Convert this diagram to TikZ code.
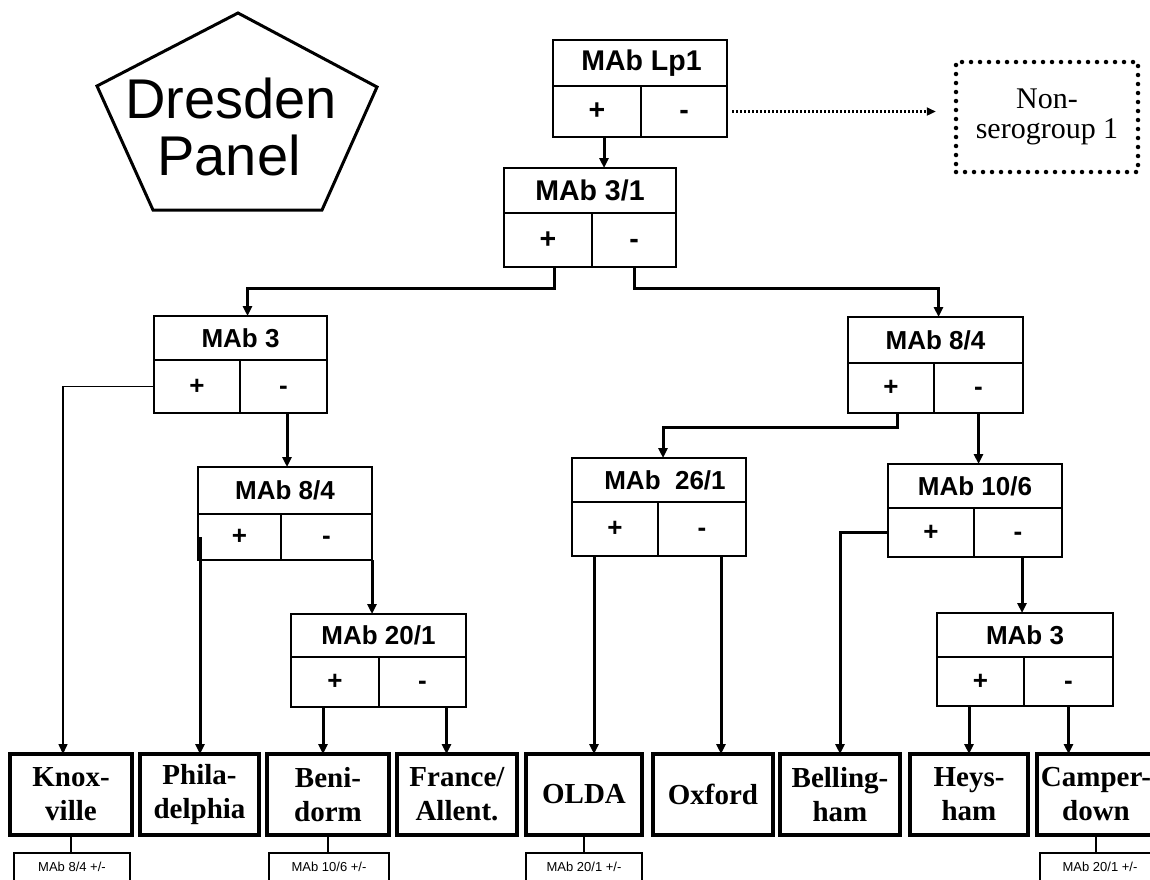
\documentclass[tikz,border=0pt]{standalone}
\usepackage{fontspec}
\setmainfont{Liberation Serif}
\setsansfont{Liberation Sans}
\usetikzlibrary{arrows.meta}
\tikzset{
  hbox/.style={draw, line width=2.8pt, inner sep=0pt, outer sep=0pt,
    font=\sffamily\bfseries\fontsize{26}{28}\selectfont},
  bigbox/.style={hbox, font=\sffamily\bfseries\fontsize{28.5}{30}\selectfont},
  leafbox/.style={draw, line width=3.5pt, inner sep=0pt, outer sep=0pt, align=center,
    font=\bfseries\fontsize{29}{34}\selectfont},
  notebox/.style={draw, line width=2pt, inner sep=0pt, outer sep=0pt,
    font=\sffamily\fontsize{13}{14}\selectfont},
  conn/.style={line width=3pt},
  thinconn/.style={line width=1.5pt},
  arr/.style={-{Triangle[length=10pt,width=9pt]}},
  dotbox/.style={draw, line width=4.5pt, dash pattern=on 0pt off 9pt, line cap=round,
    inner sep=0pt, align=center, font=\fontsize{30}{30}\selectfont},
  dotarrow/.style={line width=2.2pt, dash pattern=on 2pt off 2pt,
    -{Triangle[length=9pt,width=8pt]}},
  pent/.style={line width=3pt, line join=miter},
  bigtext/.style={font=\sffamily\fontsize{56}{58}\selectfont, anchor=base, inner sep=0pt}
}
% style, name, L, T, M (header bottom), D (divider), R, B, header text
\newcommand\mabbox[9]{%
  \node[#1, minimum width={(#7-#3)*1pt}, minimum height={(#5-#4)*1pt}] (#2) at ({(#3+#7)/2},{(#4+#5)/2}) {#9};
  \node[#1, minimum width={(#6-#3)*1pt}, minimum height={(#8-#5)*1pt}] (#2p) at ({(#3+#6)/2},{(#5+#8)/2}) {+};
  \node[#1, minimum width={(#7-#6)*1pt}, minimum height={(#8-#5)*1pt}] (#2m) at ({(#6+#7)/2},{(#5+#8)/2}) {\vphantom{+}-};
}
% name, L, R, T, B, text
\newcommand\leafnode[6]{%
  \node[leafbox, minimum width={(#3-#2)*1pt}, minimum height={(#5-#4)*1pt}] (#1) at ({(#2+#3)/2},{(#4+#5)/2}) {#6};
}
\newcommand\notenode[4]{%
  \node[notebox, minimum width={(#3-#2)*1pt}, minimum height=28pt] (#1) at ({(#2+#3)/2},867) {#4};
}
\begin{document}
\begin{tikzpicture}[x=1pt,y=-1pt]
\useasboundingbox (0,0) rectangle (1150,879);
\clip (0,0) rectangle (1150,879);
\fill[white] (0,0) rectangle (1150,879);

% Dresden Panel pentagon
\draw[pent] (238,13) -- (377,87) -- (322,210) -- (153,210) -- (97,86) -- cycle;
\node[bigtext] (dp1) at (231,118) {Dresden};
\node[bigtext] (dp2) at (229,175) {Panel};

% decision boxes
\mabbox{bigbox}{lp}{553}{40}{86}{641}{727}{137}{\hspace{3pt}MAb Lp1}
\mabbox{bigbox}{a}{504}{168}{213}{592}{676}{267}{MAb 3/1}
\mabbox{hbox}{b}{154}{316}{360}{240}{327}{413}{MAb 3}
\mabbox{hbox}{c}{848}{317}{363}{934}{1023}{413}{MAb 8/4}
\mabbox{hbox}{d}{198}{467}{514}{281}{372}{560}{MAb 8/4}
\mabbox{hbox}{e}{291}{614}{657}{379}{466}{707}{MAb 20/1}
\mabbox{hbox}{f}{572}{458}{502}{658}{746}{556}{\hspace{12pt}MAb~~26/1}
\mabbox{hbox}{g}{888}{464}{508}{974}{1062}{557}{MAb 10/6}
\mabbox{hbox}{h}{937}{613}{657}{1024}{1113}{706}{MAb 3}

% non-serogroup
\node[dotbox, minimum width=182pt, minimum height=110pt] (nsg) at (1047,117) {Non-\\serogroup 1};

% leaves
\leafnode{knox}{10}{132}{754}{835}{Knox-\\ville}
\leafnode{phil}{140}{259}{754}{835}{Phila-\\delphia}
\leafnode{beni}{267}{389}{754}{835}{Beni-\\dorm}
\leafnode{fran}{397}{517}{754}{835}{France/\\Allent.}
\leafnode{olda}{526}{642}{754}{835}{OLDA}
\leafnode{oxf}{653}{773}{754}{835}{Oxford}
\leafnode{bell}{780}{900}{754}{835}{Belling-\\ham}
\leafnode{heys}{910}{1028}{754}{835}{Heys-\\ham}
\leafnode{camp}{1037}{1155}{754}{835}{Camper-\\down}

% notes
\notenode{nk}{14}{130}{MAb 8/4 +/-}
\notenode{nb}{269}{389}{MAb 10/6 +/-}
\notenode{no}{526}{642}{MAb 20/1 +/-}
\notenode{nc}{1040}{1160}{MAb 20/1 +/-}

% connectors
\draw[dotarrow] ([xshift=5pt]lpm.east) -- ([xshift=-18pt]nsg.west |- lpm.east);
\draw[conn,arr] ([xshift=7pt]lpp.south) -- ([xshift=7pt]lpp.south |- a.north);
\draw[conn,arr] ([xshift=6pt]ap.south) -- ++(0,21) -| ([xshift=7pt]b.north);
\draw[conn,arr] (am.south) -- ++(0,21) -| ([xshift=3pt]c.north);
\draw[thinconn,arr] (bp.west) -| ([xshift=-8pt]knox.north);
\draw[conn,arr] ([xshift=3.5pt]bm.south) -- ([xshift=3.5pt]bm.south |- d.north);
\draw[conn,arr] ([xshift=2pt]dp.west) -- ([xshift=2pt]dp.west |- phil.north);
\draw[conn,arr] (dm.south east) -- (dm.south east |- e.north);
\draw[conn,arr] ([xshift=-12pt]ep.south) -- ([xshift=-12pt]ep.south |- beni.north);
\draw[conn,arr] ([xshift=24pt]em.south) -- ([xshift=24pt]em.south |- fran.north);
\draw[conn,arr] ([xshift=6pt]cp.south) -- ++(0,14) -| ([xshift=4pt]f.north);
\draw[conn,arr] (cm.south) -- (cm.south |- g.north);
\draw[conn,arr] ([xshift=-21pt]fp.south) -- ([xshift=-21pt]fp.south |- olda.north);
\draw[conn,arr] ([xshift=19pt]fm.south) -- ([xshift=19pt]fm.south |- oxf.north);
\draw[conn,arr] (gp.west) -| (bell.north);
\draw[conn,arr] ([xshift=4pt]gm.south) -- ([xshift=4pt]gm.south |- h.north);
\draw[conn,arr] (hp.south -| heys.north) -- (heys.north);
\draw[conn,arr] (hm.south) -- (hm.south |- camp.north);

\draw[thinconn] (knox.south) -- (knox.south |- nk.north);
\draw[thinconn] (beni.south) -- (beni.south |- nb.north);
\draw[thinconn] (olda.south) -- (olda.south |- no.north);
\draw[thinconn] (camp.south) -- (camp.south |- nc.north);
\end{tikzpicture}
\end{document}
